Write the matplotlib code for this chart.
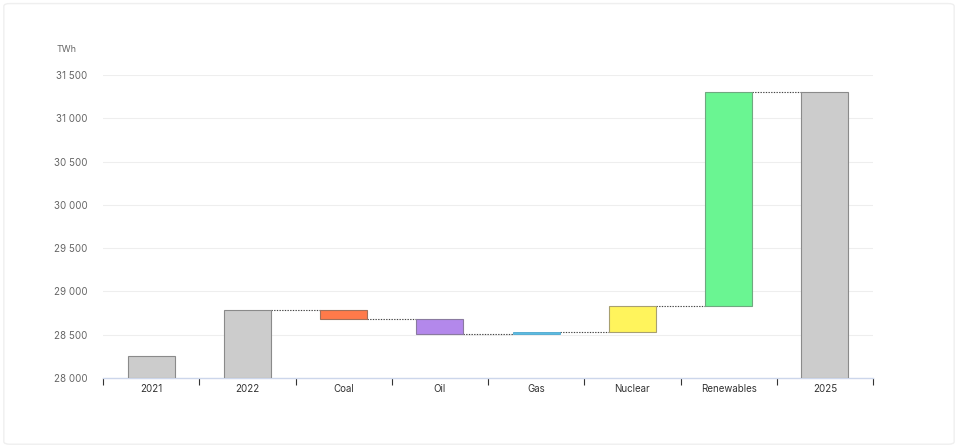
import matplotlib.pyplot as plt
from matplotlib.patches import FancyBboxPatch

plt.rcParams['font.family'] = ['Inter', 'DejaVu Sans']

# waterfall data, TWh
categories = ['2021', '2022', 'Coal', 'Oil', 'Gas', 'Nuclear', 'Renewables', '2025']
values = [28250, 28790, -110, -175, 22, 300, 2475, 31300]
is_total = [True, True, False, False, False, False, False, True]
colors = ['#cccccc', '#cccccc', '#ff7a4a', '#b388eb', '#5bbbe0',
          '#fff45c', '#6af592', '#cccccc']
edges = ['#8a8a8a', '#8a8a8a', '#a0705a', '#8a7aa0', '#3a9cc8',
         '#a8a070', '#70a880', '#8a8a8a']
y_ticks = [28000, 28500, 29000, 29500, 30000, 30500, 31000, 31500]

fig = plt.figure(figsize=(9.58, 4.46), dpi=100)
border = FancyBboxPatch((0.004, 0.004), 0.992, 0.988, boxstyle='round,pad=0,rounding_size=0.006',
                        transform=fig.transFigure, facecolor='white', edgecolor='#efefef',
                        linewidth=1, zorder=-10)
fig.patches.append(border)

ax = fig.add_axes([103 / 958, 68 / 446, 770 / 958, 303 / 446])
ax.set_facecolor('none')

base = 28000
width = 0.49
level = 0
bottoms, heights, levels = [], [], []
for v, tot in zip(values, is_total):
    if tot:
        bottoms.append(base)
        heights.append(v - base)
        level = v
    else:
        lo = min(level, level + v)
        bottoms.append(lo)
        heights.append(abs(v))
        level = level + v
    levels.append(level)
# last total equals running sum
heights[-1] = levels[-2] - base
levels[-1] = levels[-2]

x = list(range(len(categories)))
for i in x:
    lw = 0.5 if categories[i] == 'Gas' else 0.8
    ax.bar(i, heights[i], bottom=bottoms[i], width=width, color=colors[i],
           edgecolor=edges[i], linewidth=lw, zorder=3)

# dotted connectors
for i in range(1, len(categories) - 1):
    ax.plot([i + width / 2, i + 1 - width / 2], [levels[i], levels[i]],
            linestyle=(0, (1.2, 1.2)), color='#444444', linewidth=0.8, zorder=2)

ax.set_xlim(-0.5, len(categories) - 0.5)
ax.set_ylim(28000, 31500)
ax.set_yticks(y_ticks)
ax.set_yticklabels([f'{t:,}'.replace(',', ' ') for t in y_ticks])
ax.tick_params(axis='y', length=0, pad=11, labelsize=7, labelcolor='#666666')
ax.grid(axis='y', color='#eeeeee', linewidth=0.8, zorder=0)

ax.set_xticks(x)
ax.set_xticklabels(categories)
ax.tick_params(axis='x', length=0, pad=4, labelsize=7, labelcolor='#333333')
ax.set_xticks([i - 0.5 for i in range(len(categories) + 1)], minor=True)
ax.tick_params(axis='x', which='minor', length=5, width=0.8, color='#333333', direction='out')

for s in ['top', 'right', 'left']:
    ax.spines[s].set_visible(False)
ax.spines['bottom'].set_color('#ccd6eb')
ax.spines['bottom'].set_linewidth(1)

fig.text(57 / 958, 1 - 49 / 446, 'TWh', fontsize=6.5, color='#666666', va='center')

fig.savefig('out.png', dpi=100)
